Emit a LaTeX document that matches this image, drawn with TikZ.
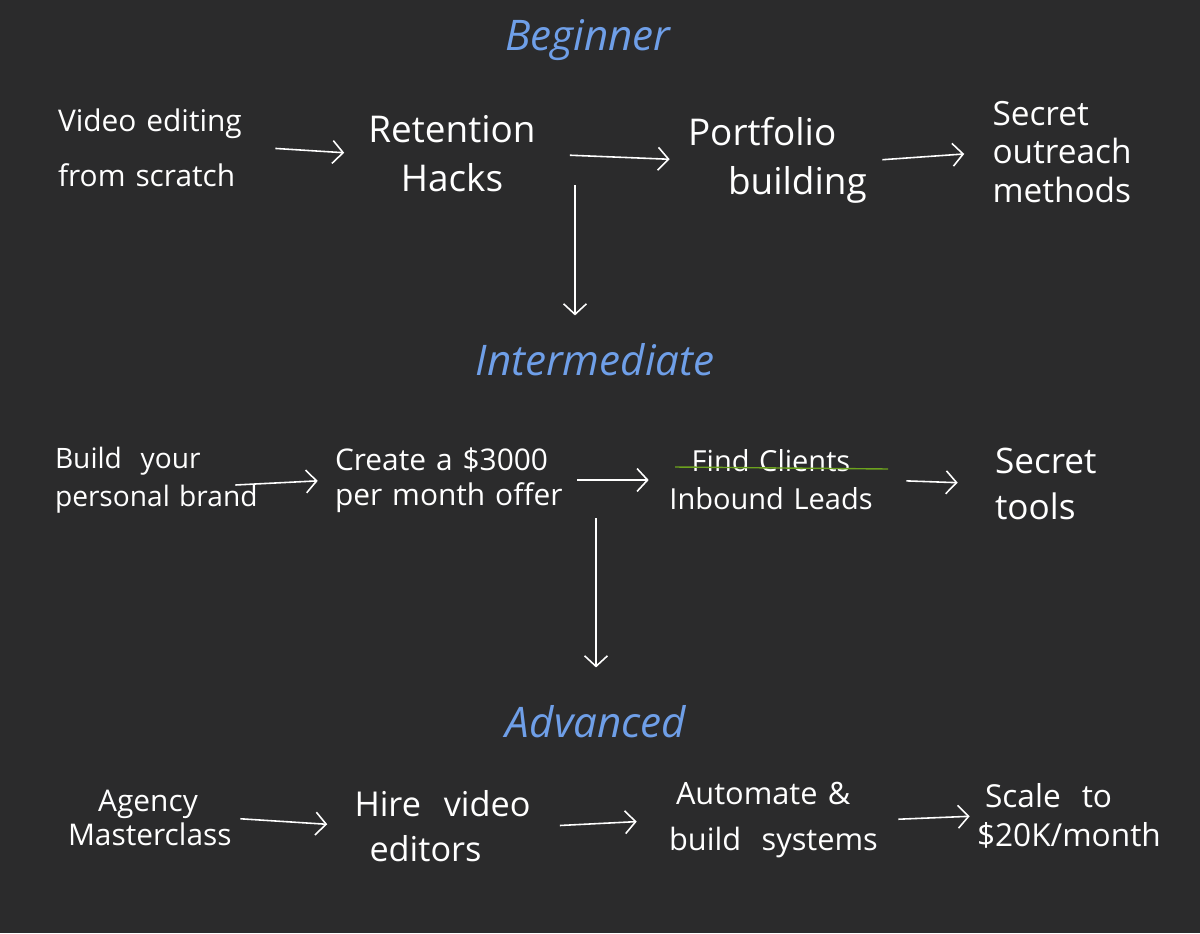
\documentclass[tikz,border=0pt]{standalone}
\usepackage{fontspec}
\setmainfont{Open Sans}
\usetikzlibrary{arrows.meta}
\definecolor{board}{HTML}{2B2B2C}
\definecolor{chalkblue}{HTML}{6F9FE8}
\definecolor{chalkgreen}{HTML}{6CA21E}

\begin{document}
\begin{tikzpicture}[x=0.02cm,y=-0.02cm,
        level/.style={text=chalkblue,font=\itshape\fontsize{24}{28}\selectfont,inner sep=0pt},
        topic/.style={text=white,inner sep=0pt,align=left,font=\fontsize{17}{31}\selectfont},
        link/.style={draw=white,line width=0.9pt,-{Straight Barb[length=6pt,width=13pt]}}]
        \fill[board] (0,0) rectangle (1200,933);
        % Beginner
        \node[level] (beg) at (588,40) {Beginner};
        \node[topic,text width=4.2cm] (vid) at (163,148) {Video editing\\from scratch};
        \node[topic,text width=3.5cm,align=center,font=\fontsize{21}{28}\selectfont] (ret) at (452,154) {Retention\\Hacks};
        \node[topic,text width=3.8cm,font=\fontsize{21}{28}\selectfont] (port) at (783,160) {Portfolio\\\hspace*{0.8cm}\mbox{building}};
        \node[topic,text width=2.9cm,font=\fontsize{19}{22}\selectfont] (outr) at (1065,152) {Secret\\outreach\\methods};
        \draw[link,shorten <=0.14cm,shorten >=0.4cm] (vid.east) -- (ret.west);
        \draw[link,shorten <=0.6cm,shorten >=0.36cm] (ret.east) -- (port.west);
        \draw[link,shorten <=0.08cm,shorten >=0.56cm] (port.east) -- (outr.west);
        % Intermediate
        \node[level] (inter) at (595,360) {Intermediate};
        \coordinate (drop1) at (575,185);
        \draw[link,shorten >=0.56cm] (drop1) -- (drop1 |- inter.north);
        \node[topic,text width=4.6cm,font=\fontsize{16}{21.5}\selectfont] (brand) at (170,480) {\mbox{Build\ \ your}\\\mbox{personal brand}};
        \node[topic,text width=4.8cm,font=\fontsize{17}{20}\selectfont] (offer) at (455,480) {\mbox{Create a \$3000}\\\mbox{per month offer}};
        \node[topic,text width=4.4cm,align=center,font=\fontsize{16.5}{21.5}\selectfont] (leads) at (771,480) {Find Clients\\Inbound Leads};
        \node[topic,text width=2.2cm,font=\fontsize{20}{26}\selectfont] (tools) at (1050,484) {Secret\\tools};
        \draw[chalkgreen,line width=0.8pt] (675,467) -- (888,469);
        \draw[link,shorten >=0.34cm] ([xshift=-1.0cm,yshift=-0.1cm]brand.east) -- (offer.west);
        \draw[link,shorten <=0.04cm,shorten >=0.24cm] (offer.east) -- (leads.west);
        \draw[link,shorten <=0.5cm,shorten >=0.74cm] (leads.east) -- (tools.west);
        % Advanced
        \node[level] (adv) at (596,722) {Advanced};
        \coordinate (drop2) at (596,518);
        \draw[link,shorten >=0.76cm] (drop2) -- (drop2 |- adv.north);
        \node[topic,text width=3.2cm,align=center,font=\fontsize{17}{19}\selectfont] (agency) at (148,818) {Agency\\Masterclass};
        \node[topic,text width=3.9cm,font=\fontsize{19.5}{25.5}\selectfont] (hire) at (452,826) {Hire\ \ video\\\hspace*{0.3cm}editors};
        \node[topic,text width=4.2cm,font=\fontsize{17.5}{26.5}\selectfont] (auto) at (774,820) {\hspace*{0.14cm}Automate \&\\build\ \ systems};
        \node[topic,text width=3.6cm,font=\fontsize{18}{22.5}\selectfont] (scale) at (1067,816) {\hspace*{0.16cm}Scale\ \ to\\\$20K/month};
        \draw[link,shorten <=0.24cm,shorten >=0.54cm] (agency.east) -- (hire.west);
        \draw[link,shorten <=0.2cm,shorten >=0.64cm] (hire.east) -- (auto.west);
        \draw[link,shorten <=0.38cm,shorten >=0.14cm] (auto.east) -- (scale.west);
\end{tikzpicture}
\end{document}
